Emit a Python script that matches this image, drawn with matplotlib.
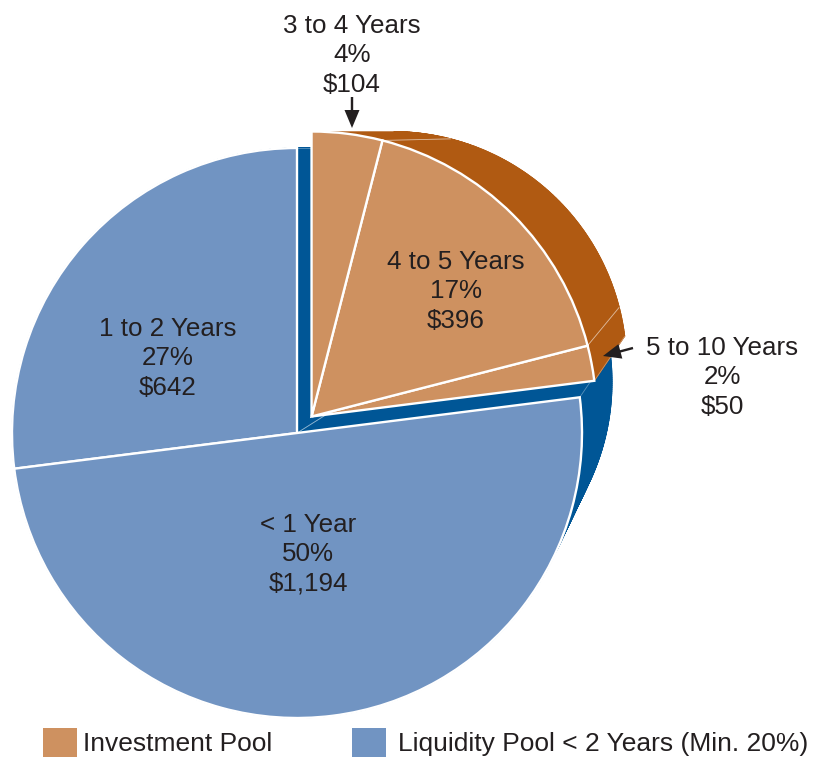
import numpy as np
import matplotlib
matplotlib.use("Agg")
import matplotlib.pyplot as plt
from matplotlib.patches import Wedge, Rectangle
from matplotlib.collections import PolyCollection, LineCollection

# ---------------- data ----------------
liq_labels = ["1 to 2 Years", "< 1 Year"]
liq_pct = [27, 50]
liq_amt = ["$642", "$1,194"]

inv_labels = ["5 to 10 Years", "4 to 5 Years", "3 to 4 Years"]
inv_pct = [2, 17, 4]
inv_amt = ["$50", "$396", "$104"]

legend_labels = ["Investment Pool", "Liquidity Pool < 2 Years (Min. 20%)"]

# ---------------- style / layout ----------------
W, H = 814, 757
light_blue, dark_blue = "#7194C2", "#005696"
light_orange, dark_orange = "#CE9160", "#B05A12"
txt_col = "#231F20"
font = "Liberation Sans"

center = np.array([297.0, H - 433.0])
radius = 285.0
vanish = np.array([750.0, H - 148.0])   # where the depth lines run to
depth_scale = 0.821                      # size of back face vs front face
explode = 22.0

line_gap = 29  # px between label baselines
# text anchors (x centre, first baseline) in pixels from top
liq_text_pos = [(168, 337), (308, 533)]
inv_text_pos = [(722, 356), (456, 270), (352, 34)]
# arrows (tail, tip) for the two small outside labels
arrows = [((633, 348), (603, 356)), ((352, 97), (352, 128))]


def side_polys(c, t1, t2, shift):
    vp = vanish + shift
    t = np.radians(np.linspace(t1, t2, max(int(abs(t2 - t1)) * 2, 4)))
    p = c + radius * np.column_stack([np.cos(t), np.sin(t)])
    q = vp + depth_scale * (p - vp)
    cq = vp + depth_scale * (c - vp)
    polys = [np.vstack([cq, q])]
    polys += [np.array([p[i], p[i + 1], q[i + 1], q[i]]) for i in range(len(t) - 1)]
    polys += [np.array([c, p[0], q[0], cq]), np.array([c, p[-1], q[-1], cq])]
    lines = [[p[0], q[0]], [p[-1], q[-1]], [c, cq]]
    return polys, lines


fig = plt.figure(figsize=(W / 100, H / 100), dpi=100)
ax = fig.add_axes([0, 0, 1, 1])
ax.set_xlim(0, W)
ax.set_ylim(0, H)
ax.axis("off")

edges = 90 + 3.6 * np.concatenate([[0], np.cumsum(liq_pct + inv_pct)])
n_liq = len(liq_pct)
mid = np.radians((edges[n_liq] + edges[-1]) / 2)
inv_shift = explode * np.array([np.cos(mid), np.sin(mid)])

groups = [
    (range(n_liq), np.zeros(2), light_blue, dark_blue),
    (range(n_liq, len(edges) - 1), inv_shift, light_orange, dark_orange),
]

# depth (sides and back) first, blue then orange
for idx, shift, _, dark in groups:
    polys, lines = [], []
    for i in idx:
        pp, ll = side_polys(center + shift, edges[i], edges[i + 1], shift)
        polys += pp
        lines += ll
    ax.add_collection(PolyCollection(polys, facecolors=dark, edgecolors=dark,
                                     linewidths=0.6, zorder=1))
    ax.add_collection(LineCollection(lines, colors="white", linewidths=0.6,
                                     alpha=0.35, zorder=1))

# front faces
for idx, shift, light, _ in groups:
    for i in idx:
        t1 = edges[i] % 360
        ax.add_patch(Wedge(tuple(center + shift), radius, t1, t1 + edges[i + 1] - edges[i],
                           facecolor=light, edgecolor="white", linewidth=1.7, zorder=2))

# labels (va=baseline anchors the last of the three lines)
txt_kw = dict(ha="center", va="baseline", fontsize=18.7, family=font, color=txt_col,
              linespacing=1.3, zorder=4)
for lab, pct, amt, (x, y) in zip(liq_labels, liq_pct, liq_amt, liq_text_pos):
    ax.text(x, H - y - 2 * line_gap, f"{lab}\n{pct}%\n{amt}", **txt_kw)
for lab, pct, amt, (x, y) in zip(inv_labels, inv_pct, inv_amt, inv_text_pos):
    ax.text(x, H - y - 2 * line_gap, f"{lab}\n{pct}%\n{amt}", **txt_kw)

for (x0, y0), (x1, y1) in arrows:
    ax.arrow(x0, H - y0, x1 - x0, y0 - y1, width=2.4, head_width=15, head_length=18,
             length_includes_head=True, facecolor=txt_col, edgecolor="none", zorder=4)

# legend
ax.add_patch(Rectangle((43, -5), 34, H - 728 + 5, facecolor=light_orange, edgecolor="none"))
ax.text(83, H - 751, legend_labels[0], fontsize=19, family=font, color=txt_col, va="baseline")
ax.add_patch(Rectangle((352, -5), 34, H - 728 + 5, facecolor=light_blue, edgecolor="none"))
ax.text(398, H - 751, legend_labels[1], fontsize=19, family=font, color=txt_col, va="baseline")

fig.savefig("out.png", dpi=100)
